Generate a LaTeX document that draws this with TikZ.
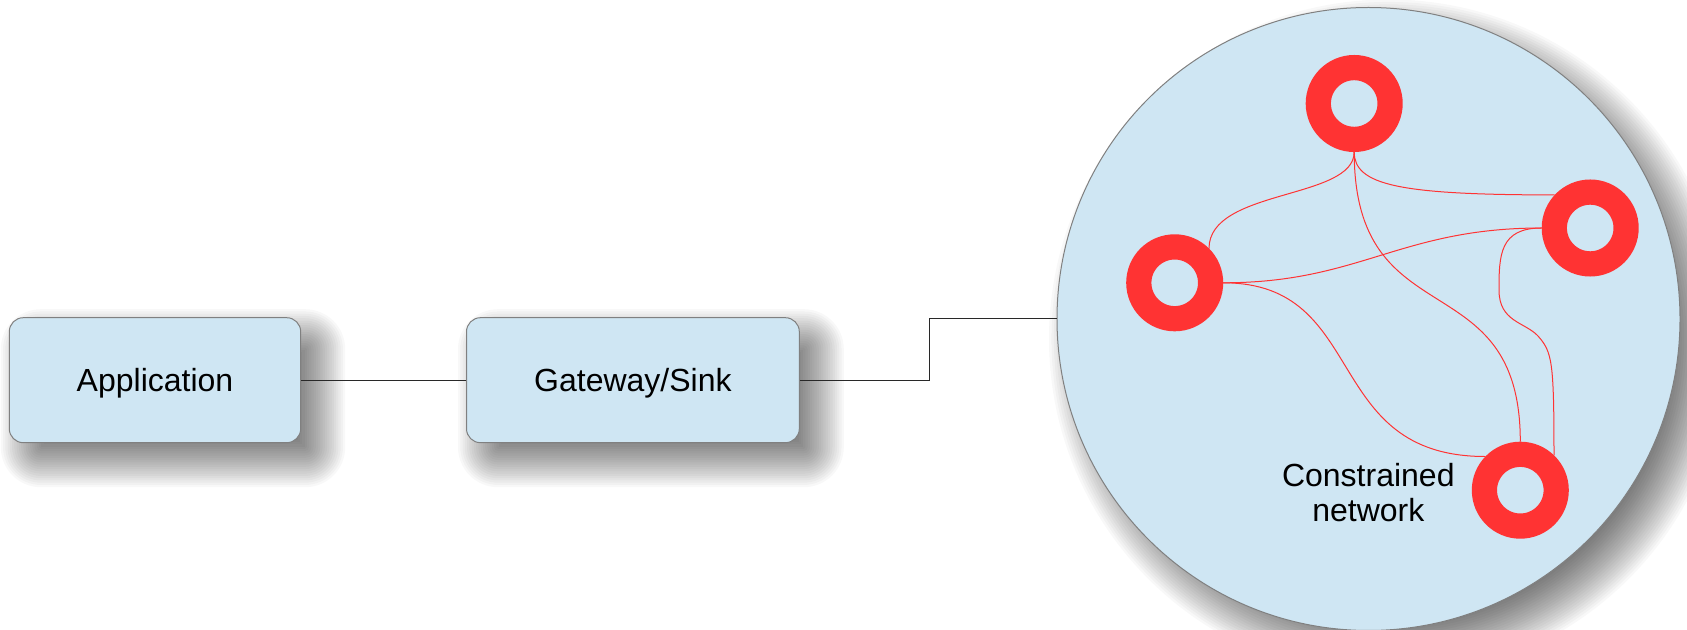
\documentclass[tikz,border=0pt]{standalone}
\usepackage{fontspec}
\setmainfont{Liberation Sans}

\definecolor{paleblue}{RGB}{207,230,243}
\definecolor{ringred}{RGB}{255,51,51}
\definecolor{rimgray}{RGB}{128,128,128}
\definecolor{wiregray}{RGB}{40,40,40}

\pgfdeclarelayer{paper}
\pgfdeclarelayer{shade}
\pgfsetlayers{paper,shade,main}

\tikzset{
  labelfont/.style={font=\fontsize{16pt}{17.5pt}\selectfont},
  boxnode/.style={labelfont, draw=rimgray, line width=0.5pt, fill=paleblue,
    rounded corners=7pt, minimum height=62.5pt, inner sep=0pt,
    text height=11.5pt, text depth=0pt},
  netdisc/.style={circle, draw=rimgray, line width=0.5pt, fill=paleblue,
    minimum size=311.5pt, inner sep=0pt},
  ring/.style={circle, draw=ringred, line width=12.6pt, minimum size=35.9pt,
    inner sep=0pt},
  wireline/.style={draw=wiregray, line width=0.5pt},
  meshline/.style={draw=ringred, line width=0.5pt},
  shadelayer/.style={fill=black, opacity=0.029},
}

% soft drop shadow under a rounded box: stacked translucent copies,
% offset down-right and grown/shrunk in even steps
\newcommand\boxshade[1]{%
  \foreach \k in {0,...,23}{%
    \pgfmathsetmacro\ee{26-52*\k/23}%
    \pgfmathsetmacro\rr{max(0,7+0.5*\ee)}%
    \fill[shadelayer, rounded corners=\rr pt]
      ([shift={(18-\ee,18-\ee)}]#1.north west) rectangle
      ([shift={(18+\ee,18+\ee)}]#1.south east);
  }}

% soft drop shadow under a disc of the given radius (in px)
\newcommand\discshade[2]{%
  \foreach \k in {0,...,23}{%
    \pgfmathsetmacro\ee{28-56*\k/23}%
    \fill[shadelayer] ([shift={(20,20)}]#1.center) circle[radius=#2+\ee];
  }}

\begin{document}
\begin{tikzpicture}[x=0.5pt, y=-0.5pt]
  \begin{pgfonlayer}{paper}
    \fill[white] (0,0) rectangle (1687,630);
  \end{pgfonlayer}
  \useasboundingbox (0,0) rectangle (1687,630);

  % client side
  \node[boxnode, minimum width=145.7pt] (app) at (155,380.2) {Application};
  \node[boxnode, minimum width=166.4pt] (gw)  at (632.9,380.2) {Gateway/Sink};

  % constrained network area
  \node[netdisc] (net) at (1368.5,319) {};

  \begin{pgfonlayer}{shade}
    \boxshade{app}
    \boxshade{gw}
    \discshade{net}{311.5}
  \end{pgfonlayer}

  % wiring between the blocks
  \draw[wireline] (app.east) -- (gw.west);
  \draw[wireline] (gw.east) -- ++(130,0) |- (net.west);

  % sensor nodes
  \node[ring] (top)    at (1354.2,103.5) {};
  \node[ring] (left)   at (1174.7,282.8) {};
  \node[ring] (right)  at (1590.2,228.0) {};
  \node[ring] (bottom) at (1520.3,490.2) {};

  % waypoints of the right-to-bottom link
  \coordinate (rb1) at (1499,290);
  \coordinate (rb2) at (1538,336);

  % mesh links
  \draw[meshline] (top.south) .. controls +(0,48) and +(0,-60) .. (left.45);
  \draw[meshline] (top.south) .. controls +(0,33) and +(-156,0) .. (right.137);
  \draw[meshline] (top.south) .. controls +(0,188) and +(0,-182) .. (bottom.north);
  \draw[meshline] (left.east) .. controls +(137,0) and +(-142,0) .. (right.west);
  \draw[meshline] (left.east) .. controls +(147,0) and +(-165,0) .. (bottom.136);
  \draw[meshline] (right.west) .. controls +(-42,0) and +(0,-35) .. (rb1)
                  .. controls +(0,32) and +(-13,-14) .. (rb2)
                  .. controls +(14,16) and +(0,-95) .. (bottom.46);

  \node[labelfont, align=center, inner sep=0pt] (netlabel) at (1368.3,492.5)
    {Constrained\\network};
\end{tikzpicture}
\end{document}
